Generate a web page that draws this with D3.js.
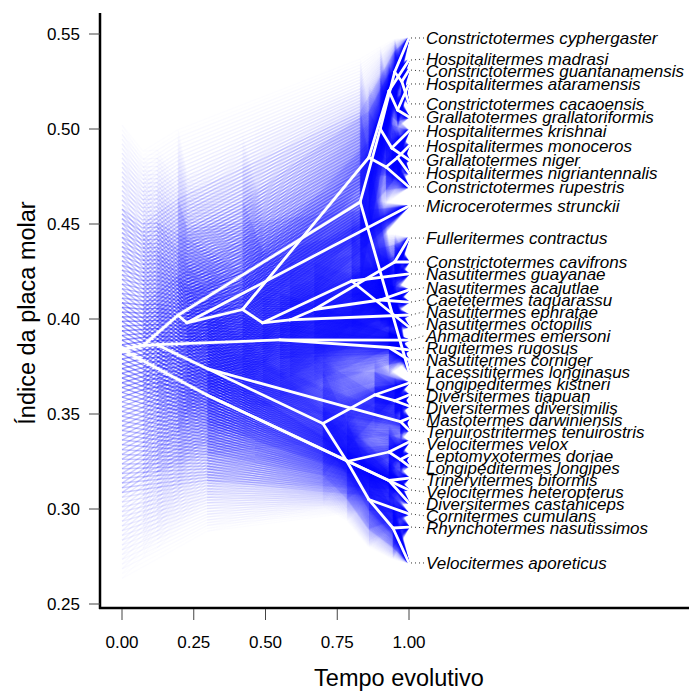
<!DOCTYPE html>
<html>
<head>
<meta charset="utf-8">
<script src="https://cdn.jsdelivr.net/npm/d3@7"></script>
<style>
body { margin: 0; background: #fff; }
text { font-family: "Liberation Sans", Arial, sans-serif; }
</style>
</head>
<body>
<svg id="vis"></svg>
<script>
// internal nodes of the tree: time, ancestral estimate and 95% CI
const nodeIds     = ['R','A','A2','B','NA','T1','T2','T4','T3','B2','N2','TA','T5','T7','T6','T8','N3','N4','N5','M3','M4','M2','M1','M5','Z','Z1','L1','L2','L3','L4','L6','P1','L7','L9','P2','P3']
const nodeParents = [null,'R','A','A','B','NA','T1','T2','T1','B','B2','N2','TA','T5','TA','T6','N2','N3','N4','N5','N5','N3','A2','M1','R','Z','A2','L1','L1','L3','L4','L3','P1','L7','P1','P2']
const nodeTimes   = [0,.073,.122,.195,.83,.90,.95,.975,.94,.226,.42,.86,.93,.96,.92,.96,.49,.585,.67,.95,.90,.80,.55,.93,.296,.93,.30,.97,.70,.88,.95,.784,.93,.97,.86,.944]
const nodeValues  = [.384,.386,.3865,.402,.4616,.50,.53,.525,.49,.398,.405,.485,.52,.51,.48,.485,.398,.3995,.405,.43,.41,.42,.389,.385,.36,.315,.3737,.346,.345,.36,.357,.325,.33,.326,.305,.29]
const nodeLower   = [.2584,.270,.275,.300,.39,.46,.51,.515,.47,.32,.33,.44,.50,.50,.46,.47,.34,.35,.36,.415,.395,.38,.34,.37,.2853,.30,.30,.335,.30,.34,.345,.2926,.315,.318,.279,.273]
const nodeUpper   = [.507,.4926,.4932,.5037,.54,.545,.548,.535,.51,.48,.50,.525,.535,.52,.50,.50,.46,.45,.445,.445,.425,.46,.43,.40,.435,.33,.44,.357,.39,.38,.37,.36,.345,.334,.33,.307]

// tips (all at time 1)
const tipNames = [
  'Constrictotermes cyphergaster','Hospitalitermes madrasi','Constrictotermes guantanamensis',
  'Hospitalitermes ataramensis','Constrictotermes cacaoensis','Grallatotermes grallatoriformis',
  'Hospitalitermes krishnai','Hospitalitermes monoceros','Grallatotermes niger',
  'Hospitalitermes nigriantennalis','Constrictotermes rupestris','Microcerotermes strunckii',
  'Fulleritermes contractus','Constrictotermes cavifrons','Nasutitermes guayanae',
  'Nasutitermes acajutlae','Caetetermes taquarassu','Nasutitermes ephratae',
  'Nasutitermes octopilis','Ahmaditermes emersoni','Rugitermes rugosus',
  'Nasutitermes corniger','Lacessititermes longinasus','Longipeditermes kistneri',
  'Diversitermes tiapuan','Diversitermes diversimilis','Mastotermes darwiniensis',
  'Tenuirostritermes tenuirostris','Velocitermes velox','Leptomyxotermes doriae',
  'Longipeditermes longipes','Trinervitermes biformis','Velocitermes heteropterus',
  'Diversitermes castaniceps','Cornitermes cumulans','Rhynchotermes nasutissimos',
  'Velocitermes aporeticus']
const tipParents = ['T2','T5','T4','T7','T4','T7','T3','T8','T3','T8','T6','B2','M3','M3','M2','M4','M4','N4','M2','M1','M5','M5','NA','L4','L6','L6','L2','L2','L7','L9','L9','Z1','Z','Z1','P2','P3','P3']
const tipValues  = [.5479,.5363,.531,.5237,.5132,.5063,.499,.4911,.4837,.4768,.4695,.4595,.4426,.43,.4237,.4153,.4089,.4021,.3958,.3889,.3837,.3784,.3721,.3663,.36,.3542,.3479,.3416,.3353,.3284,.3226,.3163,.31,.3032,.2974,.2905,.2716]

const xTicks = [0, 0.25, 0.5, 0.75, 1]
const yTicks = [0.25, 0.30, 0.35, 0.40, 0.45, 0.50, 0.55]

// svg setup
const W = 689, H = 692
const svg = d3.select('#vis').attr('width', W).attr('height', H)

const x = d3.scaleLinear().domain([0, 1]).range([122, 409])
const y = d3.scaleLinear().domain([0.25, 0.55]).range([604, 34])

// build node table
const nodes = {}
nodeIds.forEach((id, i) => {
    nodes[id] = {t: nodeTimes[i], v: nodeValues[i], lo: nodeLower[i], hi: nodeUpper[i], parent: nodeParents[i]}
})
tipNames.forEach((name, i) => {
    nodes[name] = {t: 1, v: tipValues[i], lo: tipValues[i], hi: tipValues[i], parent: tipParents[i]}
})
const edges = Object.keys(nodes).filter(k => nodes[k].parent).map(k => [nodes[k].parent, k])

// confidence fan: phenograms between the CI bounds and the estimate
const fan = svg.append('g')
const levels = d3.range(0, 51)
levels.forEach(i => {
    const p = i / 50
    const a = Math.min(1, 2.8 * parseInt(String(Math.floor(i / 2)).padStart(2, '0'), 16) / 255)
    if (a === 0) return
    ;['lo', 'hi'].forEach(side => {
        const val = k => (1 - p) * nodes[k][side] + p * nodes[k].v
        fan.append('g')
            .attr('stroke', '#0000ff')
            .attr('stroke-opacity', a)
            .attr('stroke-width', 1.5)
            .selectAll('line')
            .data(edges)
            .join('line')
            .attr('x1', d => x(nodes[d[0]].t))
            .attr('y1', d => y(val(d[0])))
            .attr('x2', d => x(nodes[d[1]].t))
            .attr('y2', d => y(val(d[1])))
    })
})

// estimated tree in white
svg.append('g')
    .attr('stroke', 'white')
    .attr('stroke-width', 2.8)
    .attr('stroke-linecap', 'round')
    .selectAll('line')
    .data(edges)
    .join('line')
    .attr('x1', d => x(nodes[d[0]].t))
    .attr('y1', d => y(nodes[d[0]].v))
    .attr('x2', d => x(nodes[d[1]].t))
    .attr('y2', d => y(nodes[d[1]].v))

// spread labels so they keep a minimum gap
const GAP = 12
let order = tipNames.map((n, i) => ({name: n, ty: y(tipValues[i])})).sort((a, b) => a.ty - b.ty)
let clusters = []
order.forEach(o => {
    clusters.push({items: [o], center: o.ty})
    while (clusters.length > 1) {
        const c = clusters[clusters.length - 1], prev = clusters[clusters.length - 2]
        const prevEnd = prev.center + (prev.items.length - 1) * GAP / 2
        const cStart = c.center - (c.items.length - 1) * GAP / 2
        if (cStart - prevEnd >= GAP) break
        const items = prev.items.concat(c.items)
        clusters.splice(clusters.length - 2, 2, {items: items, center: d3.mean(items, d => d.ty)})
    }
})
clusters.forEach(c => {
    c.items.forEach((o, k) => { o.ly = c.center + (k - (c.items.length - 1) / 2) * GAP })
})

// leaders and labels
svg.append('g')
    .selectAll('line')
    .data(order)
    .join('line')
    .attr('x1', x(1) + 2)
    .attr('y1', d => d.ty)
    .attr('x2', 424)
    .attr('y2', d => d.ly)
    .attr('stroke', '#333')
    .attr('stroke-width', 1)
    .attr('stroke-dasharray', '1,3')

svg.append('g')
    .selectAll('text')
    .data(order)
    .join('text')
    .attr('x', 426)
    .attr('y', d => d.ly)
    .attr('dy', '0.35em')
    .attr('font-size', '17px')
    .attr('font-style', 'italic')
    .text(d => d.name)

// axes (bty = "l")
svg.append('line').attr('x1', 100).attr('x2', 100).attr('y1', 13).attr('y2', 609)
    .attr('stroke', 'black').attr('stroke-width', 2.5)
svg.append('line').attr('x1', 99).attr('x2', W).attr('y1', 608).attr('y2', 608)
    .attr('stroke', 'black').attr('stroke-width', 2.5)

const yAxis = svg.append('g')
yAxis.selectAll('line').data(yTicks).join('line')
    .attr('x1', 89).attr('x2', 100)
    .attr('y1', d => y(d)).attr('y2', d => y(d))
    .attr('stroke', '#444').attr('stroke-width', 1)
yAxis.selectAll('text').data(yTicks).join('text')
    .attr('x', 80).attr('y', d => y(d)).attr('dy', '0.36em')
    .attr('text-anchor', 'end').attr('font-size', '17px')
    .text(d => d.toFixed(2))

const xAxis = svg.append('g')
xAxis.selectAll('line').data(xTicks).join('line')
    .attr('x1', d => x(d)).attr('x2', d => x(d))
    .attr('y1', 609).attr('y2', 620)
    .attr('stroke', '#444').attr('stroke-width', 1)
xAxis.selectAll('text').data(xTicks).join('text')
    .attr('x', d => x(d)).attr('y', 648)
    .attr('text-anchor', 'middle').attr('font-size', '17px')
    .text(d => d.toFixed(2))

// axis titles
svg.append('text')
    .attr('x', 399).attr('y', 686)
    .attr('text-anchor', 'middle').attr('font-size', '23.5px')
    .text('Tempo evolutivo')
svg.append('text')
    .attr('transform', 'translate(35,313) rotate(-90)')
    .attr('text-anchor', 'middle').attr('font-size', '23.5px')
    .text('Índice da placa molar')
</script>
</body>
</html>
